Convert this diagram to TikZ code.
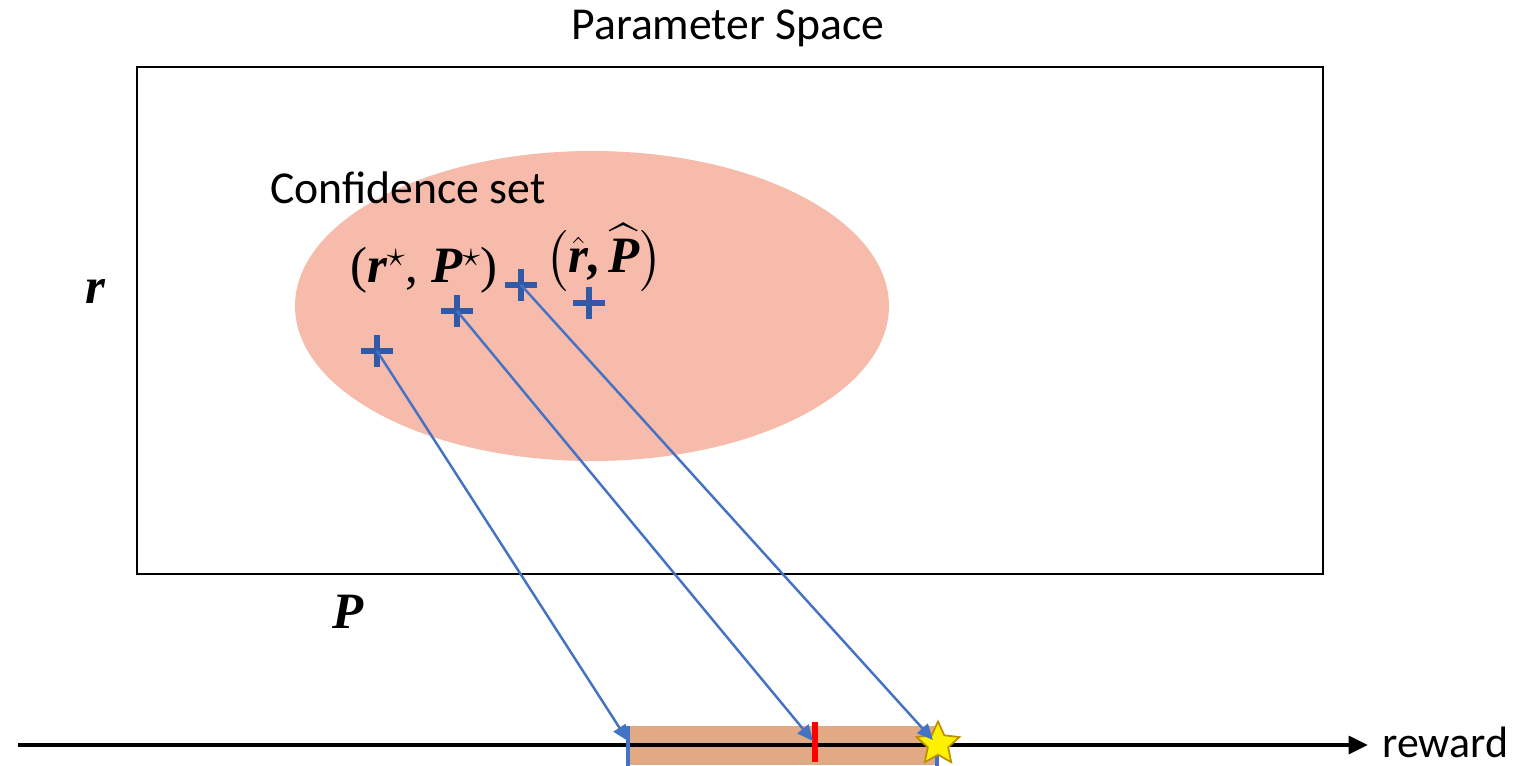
\documentclass[tikz,border=0pt]{standalone}
\usepackage{amsmath,amssymb}
\usepackage{fontspec}
\setmainfont{Carlito}
\newfontfamily\symfont{Liberation Serif}
\usetikzlibrary{arrows.meta,positioning,calc,shapes.geometric}

\definecolor{setfill}{HTML}{F6BBAA}
\definecolor{barfill}{HTML}{E2AA84}
\definecolor{plusblue}{HTML}{3259A5}
\definecolor{arrowblue}{HTML}{4472C4}
\definecolor{stargold}{HTML}{BF9000}

\newcommand{\mv}[1]{\text{\symfont\bfseries\itshape #1}}

\tikzset{
  lbl/.style={font=\fontsize{26}{30}\selectfont, inner sep=0pt},
  mathlbl/.style={font=\symfont\fontsize{29}{34}\selectfont, inner sep=0pt},
  plusmark/.style={plusblue, line width=3.3pt},
  maparrow/.style={arrowblue, line width=1.4pt, -{Triangle[length=9pt,width=8pt]}},
}

\begin{document}
\begin{tikzpicture}[x=0.02cm,y=-0.02cm]
    \useasboundingbox (0,0) rectangle (1522,766);

    % parameter space
    \node[lbl] (title) at (728,28) {Parameter Space};
    \draw[line width=1.1pt] (137,67) rectangle (1323,574);
    \node[mathlbl] (rlab) at (95,292) {\mv{r}};
    \node[mathlbl] (plab) at (348,612) {\mv{P}};

    % confidence set
    \fill[setfill] (592,306) ellipse [x radius=297, y radius=155];
    \node[lbl] (conf) at (408,188) {Confidence set};
    \node[mathlbl] (star) at (424,270) {(\mv{r}$^{\star}$, \mv{P}$^{\star}$)};
    \node[mathlbl] (hat) at (604,258) {$\bigl(\hat{\mv{r}}\mv{,}\,\widehat{\mv{P}}\bigr)$};

    \coordinate (p1) at (377,351);
    \coordinate (p2) at (457,311);
    \coordinate (p3) at (521,285);
    \coordinate (p4) at (589,303);
    \foreach \p in {p1,p2,p3,p4}{
        \draw[plusmark] ($(\p)+(-16,0)$) -- ($(\p)+(16,0)$);
        \draw[plusmark] ($(\p)+(0,-16)$) -- ($(\p)+(0,16)$);
    }

    % reward axis
    \fill[barfill] (628,726) rectangle (937,765);
    \coordinate (axl) at (18,745);
    \coordinate (axr) at (1368,745);
    \draw[line width=2.3pt, -{Triangle[length=11pt,width=10pt]}] (axl) -- (axr);
    \node[lbl, anchor=west, font=\fontsize{25}{30}\selectfont] (rew) at (1382,742) {reward};

    \coordinate (t1) at (628,741);
    \coordinate (t2) at (813,741);
    \coordinate (t3) at (933,740);
    \draw[arrowblue, line width=2.8pt] (628,726) -- (628,766);
    \draw[red, line width=3.2pt] (815,722) -- (815,762);
    \draw[arrowblue, line width=2.8pt] (937,742) -- (937,766);
    \node[star, star points=5, star point ratio=2.1, minimum size=0.9cm,
          inner sep=0pt, fill=yellow, draw=stargold, line width=1pt] (best) at (938,744) {};

    \draw[maparrow] (p1) -- (t1);
    \draw[maparrow] (p2) -- (t2);
    \draw[maparrow] (p3) -- (t3);
\end{tikzpicture}
\end{document}
